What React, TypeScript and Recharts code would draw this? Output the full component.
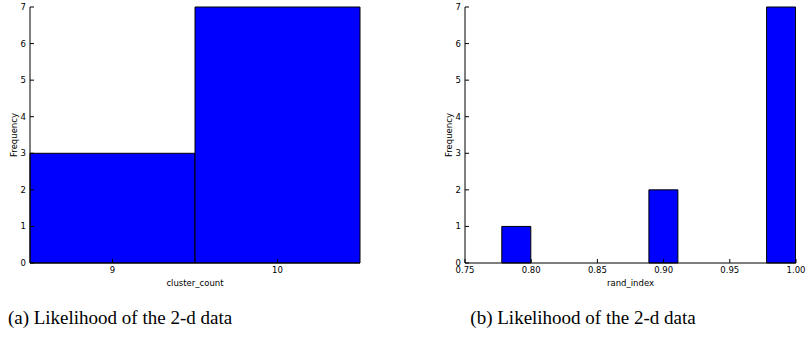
import { BarChart, Bar, XAxis, YAxis, Label } from 'recharts';

// (a) cluster_count histogram
const clusterCounts = ['9', '10'];
const clusterFreq = [3, 7];

// (b) rand_index histogram (10 bins, centre of each bin)
const randBins = [0.7889, 0.8111, 0.8333, 0.8556, 0.8778, 0.9, 0.9222, 0.9444, 0.9667, 0.9889];
const randFreq = [1, 0, 0, 0, 0, 2, 0, 0, 0, 7];
const randTicks = [0.75, 0.8, 0.85, 0.9, 0.95, 1.0];

const freqTicks = [0, 1, 2, 3, 4, 5, 6, 7];
const captions = ['(a) Likelihood of the 2-d data', '(b) Likelihood of the 2-d data'];

const tickFont = { fontFamily: 'DejaVu Sans', fontSize: 8.5, fill: '#000' };
const line = { stroke: '#000', strokeWidth: 1 };
const noLabel = () => <g />;

const clusterData = clusterCounts.map((c, i) => ({ count: c, freq: clusterFreq[i] }));
const randData = randBins.map((b, i) => ({ bin: b, freq: randFreq[i] }));

export default function App() {
  return (
    <div style={{ position: 'absolute', left: 0, top: 0, width: 805, height: 342, background: '#fff' }}>
      <div style={{ position: 'absolute', left: 0, top: 0 }}>
        <BarChart
          width={370}
          height={290}
          data={clusterData}
          margin={{ top: 7, right: 10, bottom: 0, left: 0 }}
          barCategoryGap={0}
          barGap={0}
        >
          <XAxis xAxisId="b" dataKey="count" height={27} tick={tickFont} tickSize={-4} tickMargin={8}
            axisLine={line} tickLine={line}>
            <Label value="cluster_count" position="insideBottom" offset={4}
              style={{ fontFamily: 'DejaVu Sans', fontSize: 8.5, fill: '#000' }} />
          </XAxis>
          <XAxis xAxisId="t" dataKey="count" orientation="top" height={0} tick={noLabel} tickSize={-4}
            axisLine={line} tickLine={line} />
          <YAxis yAxisId="l" width={30} domain={[0, 7]} ticks={freqTicks} tick={tickFont} tickSize={-4}
            tickMargin={8} axisLine={line} tickLine={line}>
            <Label value="Frequency" angle={-90} position="insideLeft" offset={14}
              style={{ fontFamily: 'DejaVu Sans', fontSize: 8.5, fill: '#000', textAnchor: 'middle' }} />
          </YAxis>
          <YAxis yAxisId="r" orientation="right" width={0} domain={[0, 7]} ticks={freqTicks} tick={noLabel}
            tickSize={-4} axisLine={line} tickLine={line} />
          <Bar xAxisId="b" yAxisId="l" dataKey="freq" fill="#0000ff" stroke="#000" strokeWidth={1}
            isAnimationActive={false} />
        </BarChart>
      </div>

      <div style={{ position: 'absolute', left: 420, top: 0 }}>
        <BarChart
          width={385}
          height={290}
          data={randData}
          margin={{ top: 7, right: 9, bottom: 0, left: 0 }}
          barCategoryGap={0}
          barGap={0}
        >
          <XAxis xAxisId="b" dataKey="bin" type="number" domain={[0.75, 1.0]} ticks={randTicks}
            allowDataOverflow height={27} tick={tickFont} tickSize={-4} tickMargin={8}
            tickFormatter={(v: number) => v.toFixed(2)} axisLine={line} tickLine={line}>
            <Label value="rand_index" position="insideBottom" offset={4}
              style={{ fontFamily: 'DejaVu Sans', fontSize: 8.5, fill: '#000' }} />
          </XAxis>
          <XAxis xAxisId="t" dataKey="bin" type="number" domain={[0.75, 1.0]} ticks={randTicks}
            allowDataOverflow orientation="top" height={0} tick={noLabel} tickSize={-4}
            axisLine={line} tickLine={line} />
          <YAxis yAxisId="l" width={45} domain={[0, 7]} ticks={freqTicks} tick={tickFont} tickSize={-4}
            tickMargin={8} axisLine={line} tickLine={line}>
            <Label value="Frequency" angle={-90} position="insideLeft" offset={29}
              style={{ fontFamily: 'DejaVu Sans', fontSize: 8.5, fill: '#000', textAnchor: 'middle' }} />
          </YAxis>
          <YAxis yAxisId="r" orientation="right" width={0} domain={[0, 7]} ticks={freqTicks} tick={noLabel}
            tickSize={-4} axisLine={line} tickLine={line} />
          <Bar xAxisId="b" yAxisId="l" dataKey="freq" fill="#0000ff" stroke="#000" strokeWidth={1}
            isAnimationActive={false} />
        </BarChart>
      </div>

      {captions.map((c, i) => (
        <div
          key={c}
          style={{
            position: 'absolute',
            left: i === 0 ? 0 : 463,
            width: 240,
            top: 305,
            textAlign: 'center',
            fontFamily: 'Liberation Serif',
            fontSize: 19,
            lineHeight: '26px',
            color: '#000',
          }}
        >
          {c}
        </div>
      ))}
    </div>
  );
}
